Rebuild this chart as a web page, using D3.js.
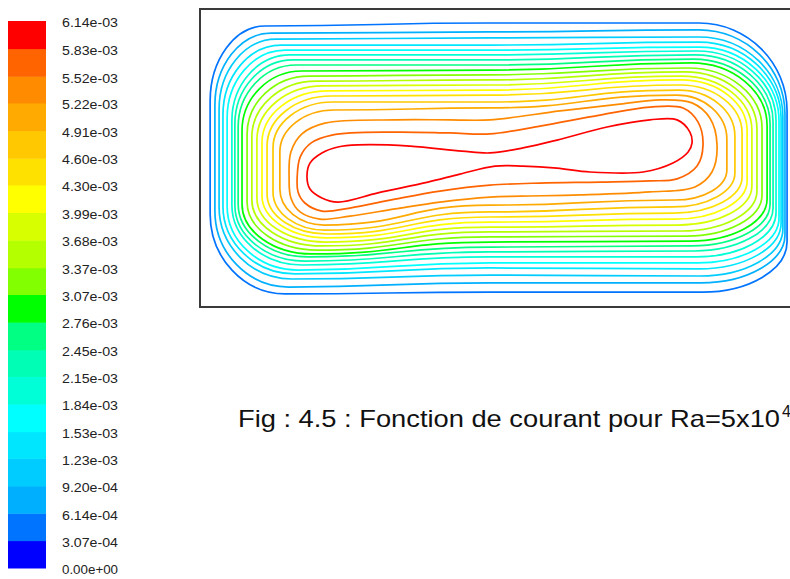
<!DOCTYPE html>
<html>
<head>
<meta charset="utf-8">
<script src="https://cdn.jsdelivr.net/npm/d3@7"></script>
<style>
  html, body { margin: 0; padding: 0; background: #ffffff; }
  svg { display: block; }
</style>
</head>
<body>
<svg id="chart" width="790" height="579"></svg>
<script>
// Stream function legend: tick values (min -> max) and their printed labels
const tickValues = [0, 3.07e-4, 6.14e-4, 9.20e-4, 1.23e-3, 1.53e-3, 1.84e-3, 2.15e-3, 2.45e-3, 2.76e-3,
  3.07e-3, 3.37e-3, 3.68e-3, 3.99e-3, 4.30e-3, 4.60e-3, 4.91e-3, 5.22e-3, 5.52e-3, 5.83e-3, 6.14e-3];
const tickLabels = ["0.00e+00", "3.07e-04", "6.14e-04", "9.20e-04", "1.23e-03", "1.53e-03", "1.84e-03",
  "2.15e-03", "2.45e-03", "2.76e-03", "3.07e-03", "3.37e-03", "3.68e-03", "3.99e-03", "4.30e-03",
  "4.60e-03", "4.91e-03", "5.22e-03", "5.52e-03", "5.83e-03", "6.14e-03"];

// Band colours, lowest band first
const bandColors = ["#0000ff", "#0073ff", "#00b0ff", "#00ccff", "#00e6ff", "#00ffff", "#00ffd7",
  "#00ffb4", "#00ff82", "#00ff00", "#82ff00", "#b4ff00", "#d7ff00", "#ffff00", "#ffe100",
  "#ffc800", "#ffaa00", "#ff8c00", "#ff6400", "#ff0000"];

// Iso-lines of the stream function (cavity 2 x 1, y measured upward)
const lineLevels = tickValues.slice(1, 20);

// Outer iso-lines (levels 1..16), cavity units.
// Side positions, top/bottom heights at the left end, the middle (x = 0.973) and the right end
const loopLeft   = [.034, .050, .064, .077, .091, .107, .117, .128, .141, .158, .174, .191, .208, .225, .245, .268];
const loopRight  = [1.970, 1.963, 1.956, 1.950, 1.943, 1.933, 1.923, 1.913, 1.903, 1.886, 1.869, 1.852, 1.836, 1.819, 1.795, 1.768];
const topLeft    = [.943, .919, .899, .879, .862, .846, .829, .812, .792, .775, .758, .742, .725, .708, .688, .661];
const topMid     = [.953, .923, .903, .879, .862, .846, .829, .812, .795, .779, .762, .745, .728, .711, .688, .668];
const topRight   = [.953, .930, .906, .889, .872, .859, .846, .832, .819, .802, .789, .775, .762, .745, .728, .711];
const bottomLeft = [.044, .067, .094, .111, .124, .141, .154, .168, .178, .191, .205, .218, .232, .245, .258, .275];
const bottomMid  = [.050, .081, .107, .131, .148, .168, .185, .201, .218, .235, .252, .268, .285, .302, .319, .342];
const bottomRight= [.050, .081, .104, .128, .148, .168, .188, .205, .221, .238, .255, .275, .295, .315, .336, .359];
const midX = 0.973;

// Corner roundings [along x, along y] in cavity units
const cornerTL = [[.185,.252],[.188,.242],[.191,.235],[.195,.235],[.195,.228],[.195,.221],[.195,.215],[.195,.208],
  [.201,.201],[.208,.195],[.215,.188],[.221,.181],[.221,.174],[.215,.168],[.201,.154],[.181,.141]];
const cornerTR = [[.295,.295],[.289,.282],[.282,.268],[.275,.258],[.268,.248],[.265,.235],[.262,.225],[.258,.218],
  [.255,.211],[.248,.201],[.242,.191],[.235,.181],[.221,.171],[.208,.161],[.188,.154],[.168,.148]];
const cornerBR = [[.285,.168],[.282,.161],[.279,.158],[.275,.154],[.272,.151],[.268,.148],[.265,.144],[.262,.141],
  [.258,.141],[.255,.138],[.252,.134],[.248,.131],[.242,.128],[.228,.121],[.208,.114],[.174,.101]];
const cornerBL = [[.252,.268],[.248,.255],[.245,.242],[.242,.228],[.238,.215],[.235,.201],[.235,.188],[.235,.178],
  [.235,.168],[.235,.161],[.235,.154],[.228,.148],[.218,.141],[.201,.134],[.174,.128],[.148,.121]];

// Inner iso-lines (levels 17..19) traced as closed point loops
const innerLoop17 = [[.299,.433],[.305,.520],[.342,.581],[.419,.617],[.654,.628],[.839,.628],[.973,.628],[1.208,.658],
  [1.409,.681],[1.544,.695],[1.651,.685],[1.711,.634],[1.735,.544],[1.718,.453],[1.661,.403],[1.510,.386],
  [1.275,.376],[1.074,.372],[.973,.369],[.805,.352],[.654,.329],[.503,.305],[.403,.295],[.336,.319],[.305,.366]];
const innerLoop18 = [[.326,.433],[.336,.503],[.372,.550],[.443,.577],[.654,.587],[.839,.584],[.973,.581],[1.141,.607],
  [1.342,.644],[1.510,.671],[1.621,.668],[1.671,.621],[1.688,.544],[1.668,.473],[1.601,.430],[1.510,.423],
  [1.342,.419],[1.141,.416],[.973,.409],[.805,.389],[.654,.362],[.503,.332],[.409,.322],[.352,.349],[.329,.386]];
const innerLoop19 = [[.359,.436],[.369,.483],[.409,.517],[.463,.537],[.530,.544],[.705,.540],[.879,.523],[.973,.517],
  [1.084,.534],[1.198,.560],[1.366,.604],[1.510,.628],[1.601,.628],[1.644,.587],[1.651,.550],[1.638,.520],
  [1.587,.483],[1.487,.453],[1.309,.453],[1.198,.466],[1.084,.473],[.990,.473],[.872,.446],[.765,.419],
  [.597,.383],[.463,.352],[.409,.366],[.369,.396]];
const innerLoops = [innerLoop17, innerLoop18, innerLoop19];

const captionText = "Fig : 4.5 : Fonction de courant pour Ra=5x10";
const captionExponent = "4";

const svg = d3.select("#chart");

// ---- colour legend ----
const legendY = d3.scaleLinear().domain([0, 6.14e-3]).range([568, 21]);
const legend = svg.append("g");
legend.selectAll("rect")
  .data(bandColors)
  .join("rect")
  .attr("x", 8)
  .attr("width", 38)
  .attr("y", (d, i) => legendY(tickValues[i + 1]))
  .attr("height", (d, i) => legendY(tickValues[i]) - legendY(tickValues[i + 1]) + 0.5)
  .attr("fill", d => d);

legend.selectAll("text")
  .data(tickLabels)
  .join("text")
  .attr("x", 62)
  .attr("y", (d, i) => legendY(tickValues[i]) + 3)
  .attr("dominant-baseline", "middle")
  .attr("font-family", "Liberation Sans, Arial, sans-serif")
  .attr("font-size", 12.5)
  .attr("textLength", 56)
  .attr("lengthAdjust", "spacingAndGlyphs")
  .attr("fill", "#222")
  .text(d => d);

// ---- cavity ----
const xScale = d3.scaleLinear().domain([0, 2]).range([200, 796]);
const yScale = d3.scaleLinear().domain([0, 1]).range([307, 9]);
const lineColor = d3.scaleThreshold().domain(tickValues.slice(1, 20)).range(bandColors);

const plot = svg.append("g");

const kappa = 0.55;
// rounded corner from a to b, bending towards corner point c
function corner(p, a, c, b) {
  p.bezierCurveTo(a[0] + kappa * (c[0] - a[0]), a[1] + kappa * (c[1] - a[1]),
                  b[0] + kappa * (c[0] - b[0]), b[1] + kappa * (c[1] - b[1]), b[0], b[1]);
}
// horizontal side from a to b through m, level at both ends and at m
function side(p, a, m, b) {
  const h1 = (m[0] - a[0]) / 2, h2 = (b[0] - m[0]) / 2;
  p.bezierCurveTo(a[0] + h1, a[1], m[0] - h1, m[1], m[0], m[1]);
  p.bezierCurveTo(m[0] + h2, m[1], b[0] - h2, b[1], b[0], b[1]);
}
function outerLoop(i) {
  const L = xScale(loopLeft[i]), R = xScale(loopRight[i]), M = xScale(midX);
  const tL = yScale(topLeft[i]), tM = yScale(topMid[i]), tR = yScale(topRight[i]);
  const bL = yScale(bottomLeft[i]), bM = yScale(bottomMid[i]), bR = yScale(bottomRight[i]);
  const w = v => xScale(v) - xScale(0), h = v => yScale(0) - yScale(v);
  const tl = cornerTL[i], tr = cornerTR[i], br = cornerBR[i], bl = cornerBL[i];
  const p = d3.path();
  const a0 = [L, tL + h(tl[1])];
  p.moveTo(a0[0], a0[1]);
  const a1 = [L, bL - h(bl[1])];
  p.lineTo(a1[0], a1[1]);
  const a2 = [L + w(bl[0]), bL];
  corner(p, a1, [L, bL], a2);
  const a3 = [R - w(br[0]), bR];
  side(p, a2, [M, bM], a3);
  const a4 = [R, bR - h(br[1])];
  corner(p, a3, [R, bR], a4);
  const a5 = [R, tR + h(tr[1])];
  p.lineTo(a5[0], a5[1]);
  const a6 = [R - w(tr[0]), tR];
  corner(p, a5, [R, tR], a6);
  const a7 = [L + w(tl[0]), tL];
  side(p, a6, [M, tM], a7);
  corner(p, a7, [L, tL], a0);
  p.closePath();
  return p.toString();
}

const loopLine = d3.line()
  .x(d => xScale(d[0]))
  .y(d => yScale(d[1]))
  .curve(d3.curveCatmullRomClosed.alpha(0.5));

plot.selectAll("path.outer")
  .data(loopLeft.map((d, i) => i))
  .join("path")
  .attr("class", "outer")
  .attr("d", i => outerLoop(i))
  .attr("fill", "none")
  .attr("stroke", i => lineColor(lineLevels[i]))
  .attr("stroke-width", 1.7);

plot.selectAll("path.inner")
  .data(innerLoops)
  .join("path")
  .attr("class", "inner")
  .attr("d", d => loopLine(d))
  .attr("fill", "none")
  .attr("stroke", (d, j) => lineColor(lineLevels[loopLeft.length + j]))
  .attr("stroke-width", 1.7);

// cavity walls
plot.append("rect")
  .attr("x", xScale(0))
  .attr("y", yScale(1))
  .attr("width", xScale(2) - xScale(0))
  .attr("height", yScale(0) - yScale(1))
  .attr("fill", "none")
  .attr("stroke", "#3a3a3a")
  .attr("stroke-width", 2);

// ---- caption ----
const caption = svg.append("text")
  .attr("x", 238)
  .attr("y", 427)
  .attr("font-family", "Liberation Sans, Arial, sans-serif")
  .attr("font-size", 24)
  .attr("fill", "#111");
caption.append("tspan")
  .attr("textLength", 542)
  .attr("lengthAdjust", "spacingAndGlyphs")
  .text(captionText);
caption.append("tspan")
  .attr("dx", 2)
  .attr("dy", -10)
  .attr("font-size", 16)
  .text(captionExponent);
</script>
</body>
</html>
